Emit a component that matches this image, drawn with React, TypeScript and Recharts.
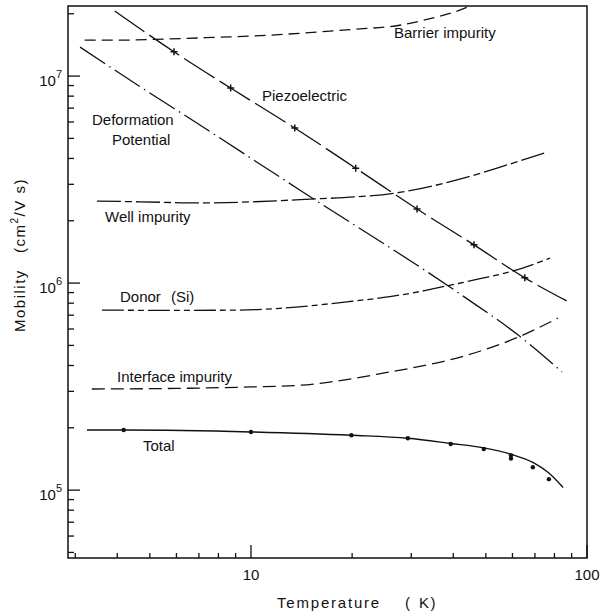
import React from 'react';
import { ComposedChart, Line, Scatter, XAxis, YAxis, ReferenceArea } from 'recharts';

// Axis limits (log-log)
const X_MIN = 2.854;
const X_MAX = 100;
const Y_MIN = 4.7e4;
const Y_MAX = 2.18e7;

const xTicks = [3, 4, 5, 6, 7, 8, 9, 10, 20, 30, 40, 50, 60, 70, 80, 90, 100];
const xMajor = [10, 100];
const yTicks = [
  5e4, 6e4, 7e4, 8e4, 9e4, 1e5, 2e5, 3e5, 4e5, 5e5, 6e5, 7e5, 8e5, 9e5,
  1e6, 2e6, 3e6, 4e6, 5e6, 6e6, 7e6, 8e6, 9e6, 1e7, 2e7,
];
const yMajor = [1e5, 1e6, 1e7];

// Curves: temperature (K) and mobility (cm^2/V s)
const barrierT = [3.2, 4, 5.6, 8, 10, 14, 20, 27.7, 35.7, 40, 45.5];
const barrierMu = [1.49e7, 1.49e7, 1.51e7, 1.54e7, 1.56e7, 1.61e7, 1.68e7, 1.76e7, 1.93e7, 2.03e7, 2.2e7];

const piezoT = [3.93, 5.9, 8.7, 13.5, 20.5, 31.2, 46.1, 65.3, 87];
const piezoMu = [2.06e7, 1.31e7, 8.75e6, 5.61e6, 3.59e6, 2.28e6, 1.53e6, 1.06e6, 8.2e5];
const piezoMarkT = [5.9, 8.7, 13.5, 20.5, 31.2, 46.1, 65.3];
const piezoMarkMu = [1.31e7, 8.75e6, 5.61e6, 3.59e6, 2.28e6, 1.53e6, 1.06e6];

const deformT = [3.1, 4.8, 6.9, 14, 42.8, 62.4, 84.3];
const deformMu = [1.38e7, 8.65e6, 5.93e6, 2.81e6, 8.65e5, 5.61e5, 3.72e5];

const wellT = [3.48, 4.67, 7.05, 14, 26.8, 44, 57.8, 76.6];
const wellMu = [2.49e6, 2.47e6, 2.44e6, 2.53e6, 2.72e6, 3.25e6, 3.72e6, 4.3e6];

const donorT = [3.6, 6, 9.27, 12.2, 16, 19.7, 25.9, 31.8, 38.3, 48.1, 59.8, 77.6];
const donorMu = [7.41e5, 7.38e5, 7.41e5, 7.55e5, 7.85e5, 8.15e5, 8.6e5, 9.1e5, 9.7e5, 1.05e6, 1.14e6, 1.32e6];

const interfaceT = [3.36, 6, 10, 14, 24.7, 44, 62.4, 82];
const interfaceMu = [3.08e5, 3.1e5, 3.15e5, 3.21e5, 3.67e5, 4.49e5, 5.48e5, 6.78e5];

const totalT = [3.25, 4.18, 10, 19.9, 29.3, 39.3, 49.3, 59.4, 69, 77, 84.9];
const totalMu = [1.95e5, 1.95e5, 1.91e5, 1.84e5, 1.78e5, 1.68e5, 1.6e5, 1.49e5, 1.36e5, 1.21e5, 1.03e5];
const totalDotT = [4.18, 10, 19.9, 29.3, 39.3, 49.3, 59.4, 59.4, 69, 77];
const totalDotMu = [1.95e5, 1.91e5, 1.84e5, 1.78e5, 1.67e5, 1.58e5, 1.47e5, 1.42e5, 1.29e5, 1.13e5];

const pts = (t: number[], mu: number[]) => t.map((v, i) => ({ t: v, mu: mu[i] }));

const FONT = '"Liberation Sans", Arial, sans-serif';
const INK = '#111';

function XTick(props: any) {
  const { x, y, payload } = props;
  const major = xMajor.includes(payload.value);
  return (
    <g>
      <line x1={x} y1={y} x2={x} y2={y - (major ? 13 : 5)} stroke={INK} strokeWidth={1.3} />
      {major && (
        <text x={x} y={y + 22} textAnchor="middle" fontSize={15} fontFamily={FONT} fill={INK}>
          {payload.value}
        </text>
      )}
    </g>
  );
}

function YTick(props: any) {
  const { x, y, payload } = props;
  const major = yMajor.includes(payload.value);
  const exp = Math.round(Math.log10(payload.value));
  return (
    <g>
      <line x1={x} y1={y} x2={x + (major ? 12 : 6)} y2={y} stroke={INK} strokeWidth={1.3} />
      {major && (
        <text x={x - 6} y={y + 10} textAnchor="end" fontSize={15} fontFamily={FONT} fill={INK}>
          10
          <tspan dy={-8} fontSize={11}>{exp}</tspan>
        </text>
      )}
    </g>
  );
}

const Plus = (props: any) => {
  const { cx, cy } = props;
  return <path d={`M${cx - 3.5},${cy}h7M${cx},${cy - 3.5}v7`} stroke={INK} strokeWidth={1.5} />;
};

const Dot = (props: any) => {
  const { cx, cy } = props;
  return <circle cx={cx} cy={cy} r={2.2} fill={INK} />;
};

const label = { fontSize: 15, fontFamily: FONT, fill: INK } as const;

export default function App() {
  return (
    <div style={{ position: 'absolute', left: 0, top: 0, width: 603, height: 613, background: '#fff' }}>
      <ComposedChart width={603} height={613} margin={{ top: 6, right: 16, bottom: 0, left: 0 }}>
        <XAxis
          dataKey="t"
          type="number"
          scale="log"
          domain={[X_MIN, X_MAX]}
          allowDataOverflow
          ticks={xTicks}
          tick={<XTick />}
          tickLine={false}
          tickSize={0}
          tickMargin={0}
          axisLine={false}
          height={55}
          interval={0}
        />
        <YAxis
          dataKey="mu"
          type="number"
          scale="log"
          domain={[Y_MIN, Y_MAX]}
          allowDataOverflow
          ticks={yTicks}
          tick={<YTick />}
          tickLine={false}
          tickSize={0}
          tickMargin={0}
          axisLine={false}
          width={68}
          interval={0}
        />
        <ReferenceArea x1={X_MIN} x2={X_MAX} y1={Y_MIN} y2={Y_MAX} fill="none" stroke={INK} strokeWidth={1.5} fillOpacity={0} />

        <Line data={pts(barrierT, barrierMu)} dataKey="mu" type="monotone" stroke={INK} strokeWidth={1.3} strokeDasharray="11 6" dot={false} isAnimationActive={false} />
        <Line data={pts(piezoT, piezoMu)} dataKey="mu" type="monotone" stroke={INK} strokeWidth={1.3} strokeDasharray="36 6" dot={false} isAnimationActive={false} />
        <Line data={pts(deformT, deformMu)} dataKey="mu" type="monotone" stroke={INK} strokeWidth={1.3} strokeDasharray="30 5 1.5 5" dot={false} isAnimationActive={false} />
        <Line data={pts(wellT, wellMu)} dataKey="mu" type="monotone" stroke={INK} strokeWidth={1.3} strokeDasharray="24 4 7 4" dot={false} isAnimationActive={false} />
        <Line data={pts(donorT, donorMu)} dataKey="mu" type="monotone" stroke={INK} strokeWidth={1.3} strokeDasharray="22 4 6 4 6 4" dot={false} isAnimationActive={false} />
        <Line data={pts(interfaceT, interfaceMu)} dataKey="mu" type="monotone" stroke={INK} strokeWidth={1.3} strokeDasharray="13 6" dot={false} isAnimationActive={false} />
        <Line data={pts(totalT, totalMu)} dataKey="mu" type="monotone" stroke={INK} strokeWidth={1.4} dot={false} isAnimationActive={false} />

        <Scatter data={pts(piezoMarkT, piezoMarkMu)} dataKey="mu" shape={<Plus />} isAnimationActive={false} />
        <Scatter data={pts(totalDotT, totalDotMu)} dataKey="mu" shape={<Dot />} isAnimationActive={false} />

        <text x={394} y={38} {...label}>Barrier impurity</text>
        <text x={262} y={101} {...label}>Piezoelectric</text>
        <text x={92} y={125} {...label}>Deformation</text>
        <text x={112} y={145} {...label}>Potential</text>
        <text x={105} y={222} {...label}>Well impurity</text>
        <text x={120} y={302} {...label}>Donor</text>
        <text x={171} y={302} {...label}>(Si)</text>
        <text x={117} y={382} {...label}>Interface impurity</text>
        <text x={143} y={451} {...label}>Total</text>

        <text x={277} y={608} fontSize={15} fontFamily={FONT} fill={INK} letterSpacing={1.8}>Temperature</text>
        <text x={405} y={608} fontSize={15} fontFamily={FONT} fill={INK}>(</text>
        <text x={419} y={608} fontSize={15} fontFamily={FONT} fill={INK} letterSpacing={1.5}>K)</text>

        <g transform="translate(25,251) rotate(-90)">
          <text x={-81} y={0} fontSize={15} fontFamily={FONT} fill={INK} letterSpacing={1.5}>Mobility</text>
          <text x={-2} y={0} fontSize={15} fontFamily={FONT} fill={INK} letterSpacing={1.5}>
            (cm<tspan dy={-7} fontSize={10}>2</tspan>
            <tspan dy={7}>/V  s)</tspan>
          </text>
        </g>
      </ComposedChart>
    </div>
  );
}
